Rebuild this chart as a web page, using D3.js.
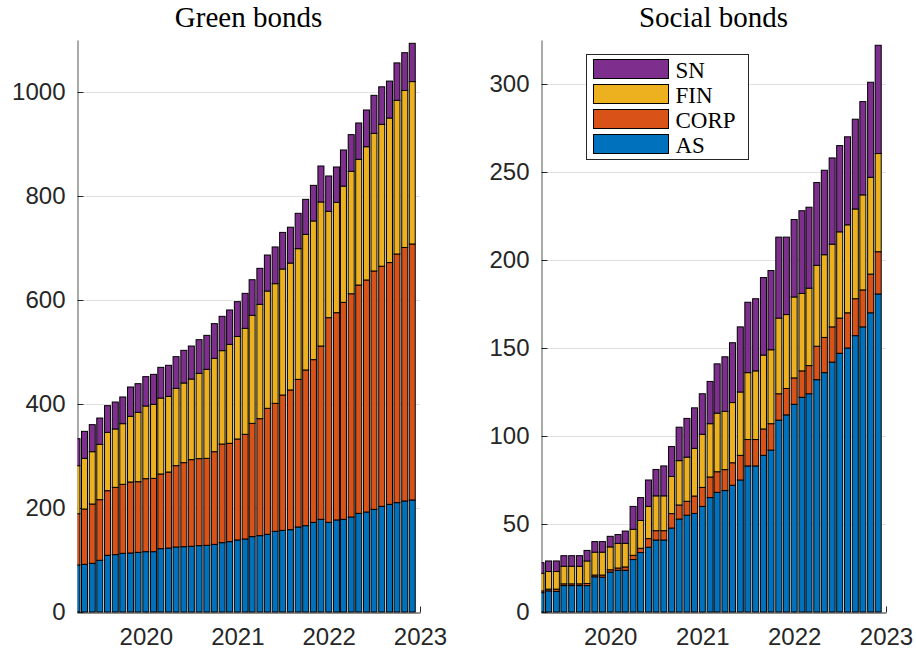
<!DOCTYPE html>
<html>
<head>
<meta charset="utf-8">
<script src="https://cdn.jsdelivr.net/npm/d3@7"></script>
<style>
  body { margin: 0; background: #fff; }
  svg { display: block; }
</style>
</head>
<body>
<svg id="chart" width="916" height="652"></svg>
<script>
// Monthly stocks of outstanding bonds by issuer sector
const months = [
  "2019-04","2019-05","2019-06","2019-07","2019-08","2019-09","2019-10","2019-11","2019-12",
  "2020-01","2020-02","2020-03","2020-04","2020-05","2020-06","2020-07","2020-08","2020-09","2020-10","2020-11","2020-12",
  "2021-01","2021-02","2021-03","2021-04","2021-05","2021-06","2021-07","2021-08","2021-09","2021-10","2021-11","2021-12",
  "2022-01","2022-02","2022-03","2022-04","2022-05","2022-06","2022-07","2022-08","2022-09","2022-10","2022-11","2022-12"
];
const seriesKeys = ["AS", "CORP", "FIN", "SN"];
const legendOrder = ["SN", "FIN", "CORP", "AS"];
const seriesColors = ["#0072BD", "#D95319", "#EDB120", "#7E2F8E"];

// Green bonds
const greenAS = [90.4,91.7,93.6,99.4,109,110.3,112.8,113.5,114.7,116,116,121.8,123,125,125.6,126.3,127.6,128.2,130,133.3,135.3,138.5,140.4,144.9,146.8,149.4,155.1,157,158.3,163.5,166,172.4,178.2,172.4,177,178.2,182.7,189.7,192.3,197.4,203.2,207,210.3,213.5,215.4];
const greenCORP = [98.6,106.3,114.1,116.6,124.3,129.4,132.7,136.5,135.9,140.4,141,143.6,146.2,156.4,161.6,166.7,167.3,167.3,178.3,189.7,189.1,194.2,201.3,217.9,225,242.3,246.2,260.3,268.7,283.9,299.4,312.9,333.3,393.6,398.6,417.3,429.3,439.1,446.2,458.4,461.8,465,478.2,487.5,492.3];
const greenFIN = [92.4,97.5,100.6,106.4,112.2,112.3,116.7,126.3,133.4,139.8,142.4,146.1,145.5,148.7,153.2,155,164.1,171.2,179.5,179.6,190.3,197.3,203.8,207.7,219.9,225.6,230.1,242.3,244,251.3,260.9,266.7,277,204.5,212.2,223.5,235.5,241.7,256.3,264.7,272.8,278,295.5,302,312.3];
const greenSN = [51.9,51.9,52,50.6,51.3,51.8,51.3,56.4,55.1,56.4,57.6,59,59.7,60.9,62.8,63.5,64.7,65.3,66.7,66,66.1,66.8,67.3,68.5,69.2,69.2,70.6,70.4,69,68,67.3,68.5,69.2,68,68,69.5,70.5,69.9,70.6,73.1,72.2,71,72,72.6,73.6];

// Social bonds
const socialAS = [11,12,11.7,15,15,15,15,20,19.8,22.7,23.7,23.7,29.8,33.8,36.8,40.9,40.9,47.7,52.8,55,56,60,65,68,69,72,75,83,83,89,92,109,112,118,122,124,132,136,142,147,150,157,162,170,180.7];
const socialCORP = [1,1,1.3,1,1,1,1.2,1,1.2,1.3,1.3,1.9,2.4,2.4,4.9,5.3,5.3,8.2,8,7.9,9.9,10.8,11.7,11.7,11.9,12.8,14,15,15,15,15,15,15,15,15,16,19,20,20,20,20,21,21,22,24];
const socialFIN = [10,10,10,10,10,10,12.8,13,13,13,14,13.4,14.8,15.8,18.3,19.8,19.8,21.1,25.2,25.1,27.1,30.2,30.3,33.3,33.1,34.2,36,38,39,42,42,43,42,46,44,44,46,47,47,49,50,51,54,55,55.8];
const socialSN = [6,6,6,6,6,6,6,6,6,6,5,7,13,13,15,15,17,17,19,22,23,23,24,28,31,34,37,40,41,44,45,46,44,44,47,46,47,48,49,49,50,51,53,54,61.5];

const yTicksGreen = [0, 200, 400, 600, 800, 1000];
const yTicksSocial = [0, 50, 100, 150, 200, 250, 300];
const xTickYears = ["2020", "2021", "2022", "2023"];

const svg = d3.select("#chart");
const parseMonth = d3.timeParse("%Y-%m");
const parseYear = d3.timeParse("%Y");
const color = d3.scaleOrdinal().domain(seriesKeys).range(seriesColors);

const tickFont = "'Liberation Sans', Arial, Helvetica, sans-serif";
const serifFont = "'Liberation Serif', 'Times New Roman', serif";
const axisColor = "#262626";

function drawPanel(cfg) {
  const { id, left, right, top, bottom, title, yMax, yTicks, values } = cfg;

  const x = d3.scaleTime()
    .domain([new Date(2019, 3, 1), new Date(2023, 0, 1)])
    .range([left, right]);
  const y = d3.scaleLinear().domain([0, yMax]).range([bottom, top]);

  const g = svg.append("g");

  // horizontal grid
  g.append("g").selectAll("line")
    .data(yTicks.filter(v => v > 0))
    .join("line")
    .attr("x1", left).attr("x2", right)
    .attr("y1", d => y(d) + 0.5).attr("y2", d => y(d) + 0.5)
    .attr("stroke", "#e1e1e1").attr("stroke-width", 1);

  // axes (drawn beneath the bars)
  const yAxis = d3.axisLeft(y).tickValues(yTicks).tickFormat(d3.format("d"))
    .tickSizeInner(-6).tickSizeOuter(0).tickPadding(12);
  const ya = g.append("g").attr("transform", `translate(${left + 0.5},0)`).call(yAxis);
  ya.select(".domain").attr("stroke", "#555");
  ya.selectAll(".tick line").attr("stroke", axisColor);
  ya.selectAll("text").attr("fill", axisColor)
    .style("font-family", tickFont).style("font-size", "24px");

  const xAxis = d3.axisBottom(x)
    .tickValues(xTickYears.map(parseYear))
    .tickFormat(d3.timeFormat("%Y"))
    .tickSizeInner(-6).tickSizeOuter(0).tickPadding(15);
  const xa = g.append("g").attr("transform", `translate(0,${bottom + 0.5})`).call(xAxis);
  xa.select(".domain").attr("stroke", axisColor);
  xa.selectAll(".tick line").attr("stroke", axisColor);
  xa.selectAll("text").attr("fill", axisColor)
    .style("font-family", tickFont).style("font-size", "24px");

  // stacked bars
  const table = months.map((m, i) => {
    const row = { date: parseMonth(m) };
    seriesKeys.forEach(k => { row[k] = values[k][i]; });
    return row;
  });
  const stacked = d3.stack().keys(seriesKeys)(table);

  g.append("clipPath").attr("id", id)
    .append("rect")
    .attr("x", left + 0.5).attr("y", top - 10)
    .attr("width", right - left).attr("height", bottom - top + 12);

  const step = x(new Date(2019, 4, 1)) - x(new Date(2019, 3, 1));
  const barW = step * 0.8;

  const bars = g.append("g").attr("clip-path", `url(#${id})`);
  bars.selectAll("g.layer")
    .data(stacked)
    .join("g")
    .attr("class", "layer")
    .attr("fill", d => color(d.key))
    .selectAll("rect")
    .data(d => d)
    .join("rect")
    .attr("x", d => x(d.data.date) - barW / 2)
    .attr("width", barW)
    .attr("y", d => y(d[1]))
    .attr("height", d => y(d[0]) - y(d[1]))
    .attr("stroke", "#000")
    .attr("stroke-width", 1);

  // title
  g.append("text")
    .attr("x", (left + right) / 2)
    .attr("y", 27)
    .attr("text-anchor", "middle")
    .attr("fill", "#000")
    .style("font-family", serifFont)
    .style("font-size", "29px")
    .text(title);

  return { x, y };
}

drawPanel({
  id: "clip-green", left: 77, right: 420, top: 40, bottom: 612,
  title: "Green bonds", yMax: 1100, yTicks: yTicksGreen,
  values: { AS: greenAS, CORP: greenCORP, FIN: greenFIN, SN: greenSN }
});

drawPanel({
  id: "clip-social", left: 541, right: 886, top: 40, bottom: 612,
  title: "Social bonds", yMax: 325, yTicks: yTicksSocial,
  values: { AS: socialAS, CORP: socialCORP, FIN: socialFIN, SN: socialSN }
});

// legend
const legend = svg.append("g").attr("transform", "translate(586.5,54.5)");
legend.append("rect")
  .attr("width", 162).attr("height", 105)
  .attr("fill", "#fff").attr("stroke", axisColor).attr("stroke-width", 1);
const item = legend.selectAll("g.item")
  .data(legendOrder)
  .join("g")
  .attr("class", "item")
  .attr("transform", (d, i) => `translate(7,${5 + i * 25})`);
item.append("rect")
  .attr("width", 75).attr("height", 19)
  .attr("fill", d => color(d))
  .attr("stroke", "#000").attr("stroke-width", 1);
item.append("text")
  .attr("x", 82).attr("y", 10)
  .attr("dy", "0.35em")
  .attr("fill", "#000")
  .style("font-family", serifFont)
  .style("font-size", "23px")
  .text(d => d);
</script>
</body>
</html>
